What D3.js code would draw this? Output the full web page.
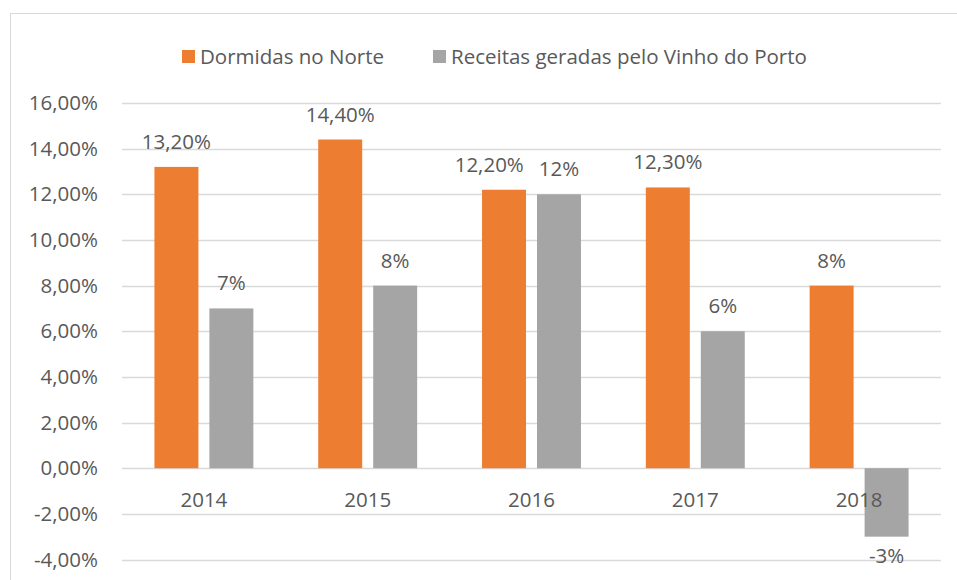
<!DOCTYPE html>
<html>
<head>
<meta charset="utf-8">
<script src="https://cdn.jsdelivr.net/npm/d3@7"></script>
<style>
  body { margin: 0; background: #fff; }
  text { font-family: 'Open Sans', sans-serif; fill: #595959; }
</style>
</head>
<body>
<div id="chart"></div>
<script>
const years = ['2014', '2015', '2016', '2017', '2018'];
const seriesNames = ['Dormidas no Norte', 'Receitas geradas pelo Vinho do Porto'];
const dormidas = [13.2, 14.4, 12.2, 12.3, 8];
const receitas = [7, 8, 12, 6, -3];
const dormidasLabels = ['13,20%', '14,40%', '12,20%', '12,30%', '8%'];
const receitasLabels = ['7%', '8%', '12%', '6%', '-3%'];
const yTicks = [-4, -2, 0, 2, 4, 6, 8, 10, 12, 14, 16];

const width = 957;
const height = 580;
const colors = ['#ED7D31', '#A5A5A5'];
const fontSize = 20.5;

const svg = d3.select('#chart')
  .append('svg')
    .attr('width', width)
    .attr('height', height);

// chart area border (bottom and right edges fall outside the picture)
svg.append('rect')
  .attr('x', 10.5)
  .attr('y', 13.5)
  .attr('width', 960)
  .attr('height', 580)
  .attr('fill', 'none')
  .attr('stroke', '#d9d9d9');

const x0 = d3.scaleBand()
  .domain(years)
  .range([122, 941])
  .paddingInner(0.396)
  .paddingOuter(0.198);

const x1 = d3.scaleBand()
  .domain([0, 1])
  .range([0, x0.bandwidth()])
  .paddingInner(0.2);

const y = d3.scaleLinear()
  .domain([-4, 16])
  .range([559.5, 103]);

// gridlines
svg.append('g')
  .selectAll('line')
  .data(yTicks)
  .enter()
  .append('line')
    .attr('x1', 122)
    .attr('x2', 941)
    .attr('y1', d => Math.round(y(d)) + 0.5)
    .attr('y2', d => Math.round(y(d)) + 0.5)
    .attr('stroke', '#d9d9d9')
    .attr('stroke-width', 1.3);

// y axis labels
const fmt = d => (d < 0 ? '-' : '') + Math.abs(d).toFixed(2).replace('.', ',') + '%';
const yAxis = svg.append('g')
  .attr('transform', 'translate(122,0)')
  .call(d3.axisLeft(y).tickValues(yTicks).tickFormat(fmt).tickSize(0).tickPadding(24));
yAxis.select('.domain').remove();
yAxis.selectAll('text')
  .attr('font-size', fontSize)
  .attr('font-family', null)
  .attr('fill', null);

// bars
const rows = years.map((yr, i) => ({
  year: yr,
  values: [dormidas[i], receitas[i]],
  labels: [dormidasLabels[i], receitasLabels[i]]
}));

const groups = svg.append('g')
  .selectAll('g')
  .data(rows)
  .enter()
  .append('g')
    .attr('transform', d => `translate(${x0(d.year)},0)`);

groups.selectAll('rect')
  .data(d => d.values.map((v, s) => ({ v, s })))
  .enter()
  .append('rect')
    .attr('x', d => x1(d.s))
    .attr('width', x1.bandwidth())
    .attr('y', d => y(Math.max(0, d.v)))
    .attr('height', d => Math.abs(y(d.v) - y(0)))
    .attr('fill', d => colors[d.s]);

// category labels
svg.append('g')
  .selectAll('text')
  .data(years)
  .enter()
  .append('text')
    .attr('x', d => x0(d) + x0.bandwidth() / 2)
    .attr('y', 507)
    .attr('text-anchor', 'middle')
    .attr('font-size', fontSize)
    .text(d => d);

// data labels
groups.each(function(d) {
  const g = d3.select(this);
  const lbls = d.values.map((v, s) => {
    const cx = x1(s) + x1.bandwidth() / 2;
    const ty = v >= 0 ? y(v) - 18 : y(v) + 26;
    return g.append('text')
      .attr('x', cx)
      .attr('y', ty)
      .attr('text-anchor', 'middle')
      .attr('font-size', fontSize)
      .text(d.labels[s]);
  });
  // push the first label left when the two labels collide
  const a = lbls[0].node().getBBox();
  const b = lbls[1].node().getBBox();
  if (Math.abs(a.y - b.y) < a.height && a.x + a.width + 6 > b.x) {
    const shift = a.x + a.width + 15 - b.x;
    lbls[0].attr('x', +lbls[0].attr('x') - shift);
  }
});

// legend
const legend = svg.append('g');
const legendX = [182, 433];
seriesNames.forEach((name, i) => {
  legend.append('rect')
    .attr('x', legendX[i])
    .attr('y', 50)
    .attr('width', 13)
    .attr('height', 13)
    .attr('fill', colors[i]);
  legend.append('text')
    .attr('x', legendX[i] + 18)
    .attr('y', 63.5)
    .attr('font-size', fontSize)
    .text(name);
});
</script>
</body>
</html>
